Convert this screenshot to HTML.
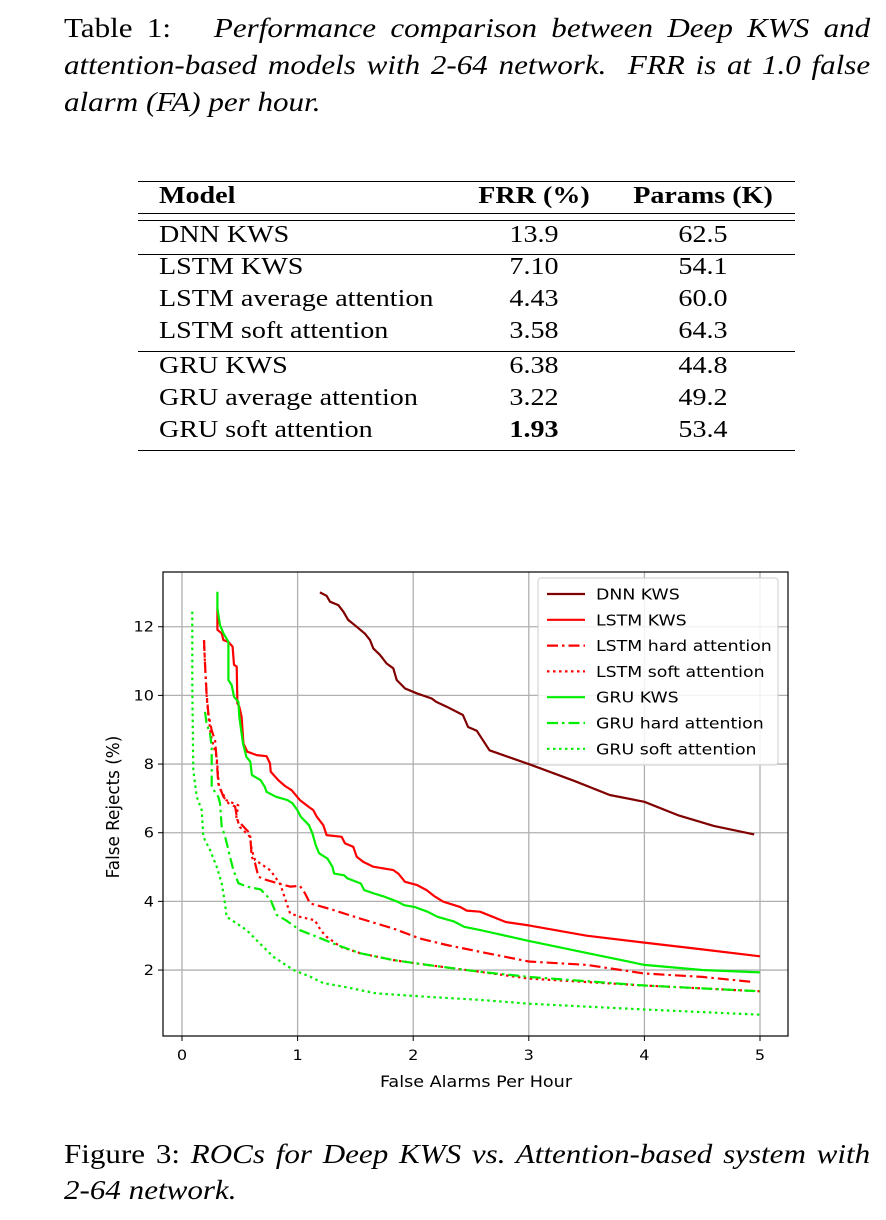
<!DOCTYPE html>
<html><head><meta charset="utf-8"><style>
body{margin:0;width:886px;height:1220px;background:#fff;position:relative;overflow:hidden;font-family:"Liberation Serif",serif;color:#000}
.t{position:absolute;white-space:nowrap;font-size:27px;transform-origin:0 0;transform:scaleX(1.15)}
.j{white-space:normal;text-align:justify;text-align-last:justify;width:701px}
.c{position:absolute;font-size:24px;white-space:nowrap}
.l{transform-origin:0 0;transform:scaleX(1.17)}
.m{transform:translateX(-50%) scaleX(1.17)}
.hl{position:absolute;left:138px;width:657px;border-top:1.3px solid #000}
</style></head><body>
<div class="t j" style="left:64px;top:13px">Table 1:&nbsp;&nbsp; <i>Performance comparison between Deep KWS and</i></div>
<div class="t j" style="left:64px;top:50px"><i>attention-based models with 2-64 network.&nbsp; FRR is at 1.0 false</i></div>
<div class="t" style="left:64px;top:87px"><i>alarm (FA) per hour.</i></div>

<div>
<div class="hl" style="top:181px"></div>
<div class="hl" style="top:213px"></div>
<div class="hl" style="top:220px"></div>
<div class="hl" style="top:254px"></div>
<div class="hl" style="top:351px"></div>
<div class="hl" style="top:450px"></div>
<div class="c l" style="left:159px;top:183px;font-weight:bold">Model</div>
<div class="c m" style="left:534px;top:183px;font-weight:bold">FRR (%)</div>
<div class="c m" style="left:703px;top:183px;font-weight:bold">Params (K)</div>
</div>
<div id="rows"></div>

<svg id="chart" width="886" height="1220" style="position:absolute;left:0;top:0" font-family="DejaVu Sans, sans-serif"></svg>

<div class="t j" style="left:64px;top:1139px">Figure 3: <i>ROCs for Deep KWS vs. Attention-based system with</i></div>
<div class="t" style="left:64px;top:1175px"><i>2-64 network.</i></div>

<script>
// table rows
const rowModels=["DNN KWS","LSTM KWS","LSTM average attention","LSTM soft attention","GRU KWS","GRU average attention","GRU soft attention"];
const rowFRR=["13.9","7.10","4.43","3.58","6.38","3.22","1.93"];
const rowParams=["62.5","54.1","60.0","64.3","44.8","49.2","53.4"];
const rowTops=[222,254,286,318,353,385,417];
const rc=document.getElementById('rows');
rowModels.forEach((m,i)=>{
  const a=document.createElement('div');a.className='c l';a.style.left='159px';a.style.top=rowTops[i]+'px';a.textContent=m;
  
  
  rc.appendChild(a);
  const b=document.createElement('div');b.className='c m';b.style.left='534px';b.style.top=rowTops[i]+'px';b.textContent=rowFRR[i];
  if(i===6)b.style.fontWeight='bold';
  
  
  rc.appendChild(b);
  const c=document.createElement('div');c.className='c m';c.style.left='703px';c.style.top=rowTops[i]+'px';c.textContent=rowParams[i];
  
  
  rc.appendChild(c);
});

// chart data
const xTicks=[0,1,2,3,4,5];
const yTicks=[2,4,6,8,10,12];
const seriesNames=["DNN KWS","LSTM KWS","LSTM hard attention","LSTM soft attention","GRU KWS","GRU hard attention","GRU soft attention"];
const dnnX=[1.193,1.251,1.28,1.352,1.395,1.438,1.51,1.582,1.626,1.655,1.713,1.77,1.828,1.857,1.93,2.03,2.16,2.2,2.29,2.43,2.475,2.55,2.66,3.0,3.4,3.7,4.0,4.3,4.6,4.95];
const dnnY=[13.0,12.9,12.73,12.63,12.44,12.2,12.0,11.8,11.61,11.37,11.18,10.93,10.79,10.45,10.2,10.06,9.91,9.81,9.67,9.43,9.08,8.97,8.4,8.0,7.5,7.1,6.9,6.5,6.2,5.95];
const lstmX=[0.306,0.306,0.343,0.358,0.401,0.438,0.45,0.473,0.479,0.496,0.516,0.531,0.565,0.646,0.732,0.761,0.767,0.833,0.891,0.948,1.02,1.093,1.136,1.165,1.222,1.251,1.381,1.41,1.482,1.511,1.568,1.655,1.828,1.871,1.929,2.03,2.116,2.188,2.26,2.405,2.463,2.578,2.8,3.0,3.5,4.0,4.5,5.0];
const lstmY=[12.54,11.91,11.81,11.61,11.56,11.42,10.89,10.84,9.77,9.67,9.38,8.6,8.36,8.26,8.23,8.02,7.78,7.53,7.36,7.24,6.95,6.76,6.66,6.47,6.22,5.93,5.88,5.69,5.59,5.3,5.15,5.01,4.91,4.81,4.57,4.48,4.33,4.14,3.99,3.84,3.73,3.7,3.4,3.3,3.0,2.8,2.6,2.4];
const lstmHardX=[0.19,0.199,0.213,0.228,0.257,0.286,0.3,0.314,0.358,0.401,0.459,0.479,0.545,0.588,0.603,0.632,0.661,0.733,0.834,0.935,1.02,1.063,1.107,1.164,1.309,1.539,1.827,2.058,2.29,2.578,3.0,3.5,4.0,4.5,4.95];
const lstmHardY=[11.61,10.93,10.05,9.47,8.98,8.69,8.11,7.43,7.05,6.86,6.76,6.37,6.13,5.98,5.3,5.11,4.72,4.62,4.52,4.43,4.45,4.24,3.94,3.89,3.75,3.5,3.21,2.92,2.73,2.53,2.25,2.15,1.9,1.8,1.65];
const lstmSoftX=[0.19,0.199,0.213,0.228,0.252,0.3,0.32,0.386,0.487,0.47,0.5,0.588,0.603,0.632,0.68,0.766,0.85,0.9,0.935,1.02,1.15,1.2,1.25,1.37,1.54,1.83,2.12,2.58,3.0,4.0,5.0];
const lstmSoftY=[11.6,10.9,10.0,9.4,8.8,8.2,7.33,6.94,6.8,6.47,6.17,5.88,5.5,5.2,5.1,4.9,4.5,4.0,3.65,3.55,3.45,3.16,2.97,2.68,2.49,2.29,2.15,1.95,1.75,1.55,1.38];
const gruX=[0.306,0.306,0.329,0.358,0.401,0.401,0.43,0.45,0.488,0.496,0.528,0.557,0.591,0.605,0.68,0.715,0.732,0.811,0.912,0.955,0.998,1.027,1.099,1.128,1.157,1.186,1.258,1.301,1.316,1.403,1.432,1.547,1.576,1.662,1.749,1.864,1.922,2.009,2.124,2.21,2.355,2.441,2.585,3.0,3.5,4.0,4.5,5.0];
const gruY=[13.02,12.54,12.05,11.81,11.56,10.45,10.3,9.96,9.81,9.38,8.6,8.21,8.07,7.68,7.53,7.34,7.19,7.05,6.95,6.86,6.66,6.47,6.22,5.98,5.64,5.4,5.25,5.01,4.81,4.76,4.67,4.52,4.33,4.23,4.14,3.99,3.89,3.84,3.7,3.55,3.41,3.26,3.16,2.85,2.5,2.15,2.0,1.93];
const gruHardX=[0.199,0.213,0.242,0.257,0.257,0.314,0.329,0.343,0.372,0.401,0.415,0.444,0.488,0.56,0.68,0.766,0.82,0.9,1.02,1.165,1.31,1.54,1.83,2.12,2.58,3.0,4.0,5.0];
const gruHardY=[9.52,9.18,8.89,8.5,7.33,7.05,6.86,6.18,5.9,5.5,5.3,4.92,4.53,4.43,4.35,4.05,3.6,3.45,3.16,2.97,2.77,2.49,2.29,2.15,1.95,1.8,1.55,1.38];
const gruSoftX=[0.089,0.089,0.098,0.127,0.17,0.184,0.242,0.3,0.343,0.372,0.386,0.473,0.56,0.675,0.79,0.964,1.107,1.222,1.39,1.68,2.12,2.58,3.0,4.0,5.0];
const gruSoftY=[12.44,10.25,7.82,7.05,6.66,5.88,5.5,5.01,4.53,3.94,3.55,3.36,3.16,2.77,2.39,2.0,1.81,1.62,1.52,1.32,1.22,1.13,1.02,0.85,0.7];

const L=163,R=788,T=572,B=1036;
const X=v=>182+v*115.6;
const Y=v=>1038.7-v*34.33;
const NS='http://www.w3.org/2000/svg';
const svg=document.getElementById('chart');
function mk(tag,attrs,parent){const e=document.createElementNS(NS,tag);for(const k in attrs)e.setAttribute(k,attrs[k]);(parent||svg).appendChild(e);return e;}

xTicks.forEach(v=>{
  const g=mk('line',{x1:X(v),x2:X(v),y1:T,y2:B,stroke:'#b0b0b0','stroke-width':1.3});
  
  
  mk('line',{x1:X(v),x2:X(v),y1:B,y2:B+5,stroke:'#000','stroke-width':1});
  const t=mk('text',{x:0,y:0,'font-size':14,'text-anchor':'middle',fill:'#000',transform:`translate(${X(v)},${B+24}) scale(1.15,1)`});t.textContent=v;
  
  
});
yTicks.forEach(v=>{
  const g=mk('line',{x1:L,x2:R,y1:Y(v),y2:Y(v),stroke:'#b0b0b0','stroke-width':1.3});
  
  
  mk('line',{x1:L-5,x2:L,y1:Y(v),y2:Y(v),stroke:'#000','stroke-width':1});
  const t=mk('text',{x:0,y:0,'font-size':14,'text-anchor':'end',fill:'#000',transform:`translate(${L-9},${Y(v)+5}) scale(1.15,1)`});t.textContent=v;
  
  
});

const styles=[
 {c:'#800000',d:''},{c:'#ff0000',d:''},{c:'#ff0000',d:'11,4,2.5,4'},{c:'#ff0000',d:'2.5,3.5'},
 {c:'#00ee00',d:''},{c:'#00ee00',d:'11,4,2.5,4'},{c:'#00ee00',d:'2.5,3.5'}];
const data=[[dnnX,dnnY],[lstmX,lstmY],[lstmHardX,lstmHardY],[lstmSoftX,lstmSoftY],[gruX,gruY],[gruHardX,gruHardY],[gruSoftX,gruSoftY]];
const seriesIds=['dnn-kws-line','lstm-kws-line','lstm-hard-attention-line','lstm-soft-attention-line','gru-kws-line','gru-hard-attention-line','gru-soft-attention-line'];
data.forEach((s,i)=>{
  const pts=s[0].map((x,j)=>X(x).toFixed(1)+','+Y(s[1][j]).toFixed(1)).join(' ');
  const p=mk('polyline',{points:pts,fill:'none',stroke:styles[i].c,'stroke-width':2.2,'stroke-dasharray':styles[i].d,'stroke-linejoin':'round'});
  
  
});

const fr=mk('rect',{x:L,y:T,width:R-L,height:B-T,fill:'none',stroke:'#000','stroke-width':1.2});



const xt=mk('text',{x:0,y:0,'font-size':16,'text-anchor':'middle',fill:'#000',transform:'translate(476,1087) scale(1.1,1)'});xt.textContent='False Alarms Per Hour';


const yt=mk('text',{x:0,y:0,'font-size':16,'text-anchor':'middle',fill:'#000',transform:'translate(119,807) rotate(-90) scale(1.05,1.1)'});yt.textContent='False Rejects (%)';



const lg=mk('rect',{x:538,y:578,width:240,height:187,rx:3,fill:'#fff','fill-opacity':0.85,stroke:'#ccc','stroke-width':1});


seriesNames.forEach((n,i)=>{
  const y=594+i*25.8;
  const l=mk('line',{x1:547,x2:585,y1:y,y2:y,stroke:styles[i].c,'stroke-width':2.2,'stroke-dasharray':styles[i].d});
  
  
  const t=mk('text',{x:0,y:0,'font-size':15.5,fill:'#000',transform:`translate(596,${y+5.5}) scale(1.12,1)`});t.textContent=n;
  
  
});
</script>
</body></html>
